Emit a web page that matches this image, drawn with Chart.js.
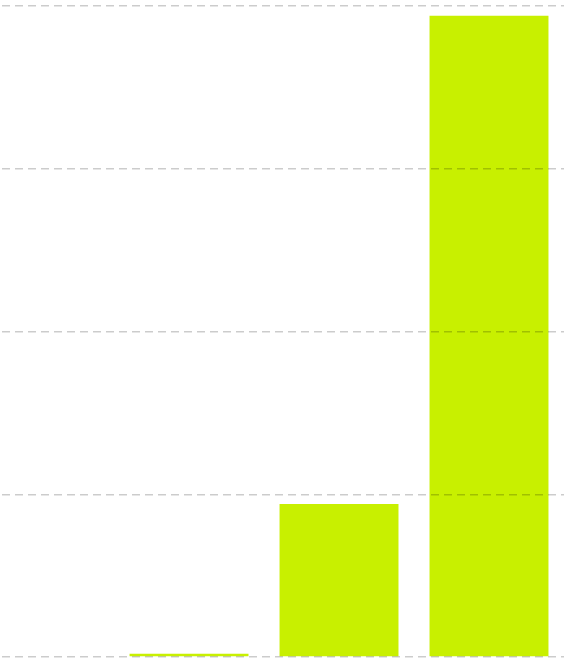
<!DOCTYPE html>
<html>
<head>
<meta charset="utf-8">
<script src="https://cdn.jsdelivr.net/npm/chart.js@4"></script>
<style>
  html, body { margin: 0; padding: 0; background: #fff; }
  #wrap { width: 585px; height: 667px; position: relative; }
</style>
</head>
<body>
<div id="wrap"><canvas id="c"></canvas></div>
<script>
const positions = [1, 2, 3];
const values = [0.02, 0.94, 3.94];
const yTicks = [0, 1, 2, 3, 4];

const ctx = document.getElementById('c');
new Chart(ctx, {
  type: 'bar',
  data: {
    datasets: [{
      data: positions.map((p, i) => ({ x: p, y: values[i] })),
      backgroundColor: '#c8f000',
      borderWidth: 0,
      barPercentage: 0.793,
      categoryPercentage: 1
    }]
  },
  options: {
    responsive: true,
    maintainAspectRatio: false,
    animation: false,
    layout: { padding: { left: 2, right: 21, top: 6, bottom: 10 } },
    plugins: { legend: { display: false }, tooltip: { enabled: false } },
    scales: {
      x: {
        type: 'linear',
        offset: false,
        min: -0.247,
        max: 3.5,
        display: false,
        afterBuildTicks: (axis) => { axis.ticks = positions.map(v => ({ value: v })); },
        grid: { offset: false }
      },
      y: {
        min: yTicks[0],
        max: yTicks[yTicks.length - 1],
        afterBuildTicks: (axis) => { axis.ticks = yTicks.map(v => ({ value: v })); },
        ticks: { display: false },
        border: { display: false, dash: [8, 5] },
        grid: { color: 'rgba(0,0,0,0.2)', lineWidth: 1.5, drawTicks: false, z: 1 }
      }
    }
  }
});
</script>
</body>
</html>
